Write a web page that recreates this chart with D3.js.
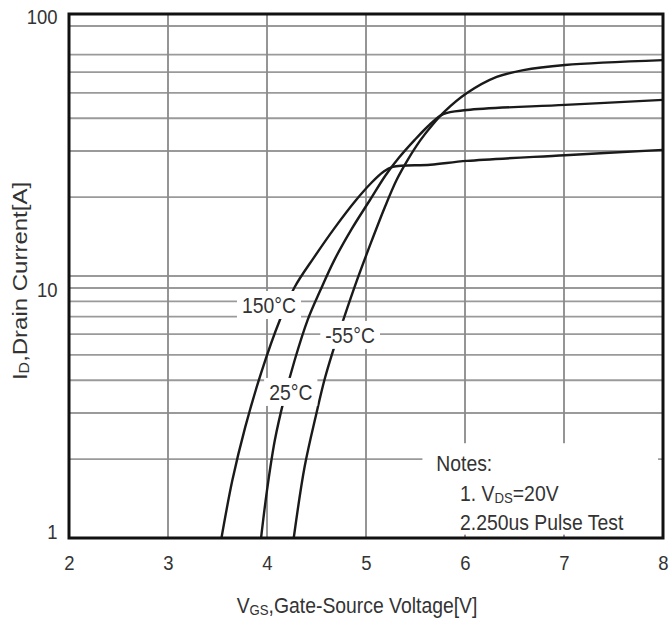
<html>
<head>
<meta charset='utf-8' />
<title>Transfer Characteristics</title>
<script src="https://cdn.jsdelivr.net/npm/d3@7"></script>
<style>
body { margin: 0; background: #fff; }
text { font-family: "Liberation Sans", Arial, sans-serif; fill: #333; }
</style>
</head>
<body>
<script>

// axis ticks and grid
var xTicks = [2, 3, 4, 5, 6, 7, 8];
var yTicks = [1, 10, 100];
var yGrid = [2, 3, 4, 5, 6, 7, 8, 9, 10, 20, 30, 40, 50, 60, 70, 90];

// curves: VGS [V] -> ID [A]
var vgs_150 = [3.54, 3.65, 3.78, 3.94, 4.13, 4.28, 4.47, 4.68, 4.90, 5.05, 5.17, 5.27, 5.65, 6.02, 7.01, 8.0];
var id_150  = [1.0, 1.66, 2.65, 4.26, 6.79, 9.08, 11.7, 15.2, 19.5, 22.6, 24.9, 26.1, 26.6, 27.5, 28.9, 30.3];

var vgs_25 = [3.94, 4.00, 4.08, 4.17, 4.28, 4.41, 4.54, 4.68, 4.85, 5.04, 5.20, 5.33, 5.49, 5.64, 5.78, 6.02, 7.01, 8.0];
var id_25  = [1.0, 1.52, 2.37, 3.36, 4.78, 6.79, 8.84, 11.5, 15.0, 19.5, 24.3, 28.2, 33.0, 37.7, 41.5, 43.0, 45.0, 47.0];

var vgs_m55 = [4.27, 4.38, 4.50, 4.58, 4.66, 4.77, 4.91, 5.06, 5.19, 5.31, 5.42, 5.55, 5.67, 5.79, 6.02, 6.32, 6.59, 7.01, 8.0];
var id_m55  = [1.0, 1.87, 3.0, 4.01, 5.08, 6.79, 9.66, 13.7, 18.3, 23.3, 27.7, 33.0, 37.7, 42.3, 49.9, 57.5, 61.1, 63.9, 66.7];

// curve labels (placed in data units)
var labelText = ["150°C", "25°C", "-55°C"];
var labelV    = [4.02, 4.24, 4.84];
var labelI    = [7.75, 3.61, 5.96];

var notes = ["Notes:", "1. V", "2.250us Pulse Test"];

var margin = {top: 14, right: 7, bottom: 89, left: 69};
var width = 670 - margin.left - margin.right,
    height = 627 - margin.top - margin.bottom;
var sx = 0.88; // glyphs in the picture are a bit narrow

var base = d3.select("body").append("svg")
  .attr("width", 670)
  .attr("height", 627);

var svg = base.append("g").attr("transform", "translate(" + margin.left + "," + margin.top + ")");

var xScale = d3.scaleLinear().domain([2, 8]).range([0, width]);
var yScale = d3.scaleLog().domain([1, 100]).range([height, 0]);

// grid
svg.append("g").selectAll("line.h")
  .data(yGrid).enter().append("line")
  .attr("x1", 0).attr("x2", width)
  .attr("y1", d => yScale(d)).attr("y2", d => yScale(d))
  .attr("stroke", "#9a9a9a").attr("stroke-width", 1.8);

svg.append("g").selectAll("line.v")
  .data(xTicks.slice(1, -1)).enter().append("line")
  .attr("x1", d => xScale(d)).attr("x2", d => xScale(d))
  .attr("y1", 0).attr("y2", height)
  .attr("stroke", "#8a8a8a").attr("stroke-width", 1.8);

// curves
var line = d3.line()
  .x(d => xScale(d[0]))
  .y(d => yScale(d[1]))
  .curve(d3.curveCatmullRom.alpha(0.5));

[[vgs_150, id_150], [vgs_25, id_25], [vgs_m55, id_m55]].forEach(function(s) {
  svg.append("path")
    .datum(d3.zip(s[0], s[1]))
    .attr("fill", "none")
    .attr("stroke", "#1a1a1a")
    .attr("stroke-width", 2.4)
    .attr("d", line);
});

// curve labels with white boxes
var fs = 22;
labelText.forEach(function(t, i) {
  var cx = xScale(labelV[i]), cy = yScale(labelI[i]);
  var g = svg.append("g");
  var txt = g.append("text")
    .attr("text-anchor", "middle")
    .attr("font-size", fs)
    .attr("dy", "0.36em")
    .attr("transform", "translate(" + cx + "," + cy + ") scale(" + sx + ",1)")
    .text(t);
  var w = txt.node().getComputedTextLength() * sx;
  g.insert("rect", "text")
    .attr("x", cx - w / 2 - 5).attr("y", cy - 14)
    .attr("width", w + 10).attr("height", 28)
    .attr("fill", "#fff");
});

// notes box
var nx = xScale(5.57), ny = yScale(2.3);
svg.append("rect")
  .attr("x", nx).attr("y", ny)
  .attr("width", xScale(7.95) - nx).attr("height", yScale(1.03) - ny)
  .attr("fill", "#fff");

svg.append("text").attr("font-size", fs)
  .attr("transform", "translate(" + (xScale(5.72) - 1) + "," + (ny + 28) + ") scale(" + sx + ",1)")
  .text(notes[0]);
var n1 = svg.append("text").attr("font-size", fs)
  .attr("transform", "translate(" + xScale(5.95) + "," + (ny + 58) + ") scale(" + sx + ",1)");
n1.append("tspan").text(notes[1]);
n1.append("tspan").attr("font-size", 15).attr("dy", 2).text("DS");
n1.append("tspan").attr("dy", -2).text("=20V");
svg.append("text").attr("font-size", fs)
  .attr("transform", "translate(" + xScale(5.95) + "," + (ny + 87) + ") scale(" + sx + ",1)")
  .text(notes[2]);

// axes (labels only)
var xAxis = svg.append("g")
  .attr("transform", "translate(0," + height + ")")
  .call(d3.axisBottom(xScale).tickValues(xTicks).tickSize(0).tickPadding(17).tickFormat(d3.format("d")));
var yAxis = svg.append("g")
  .call(d3.axisLeft(yScale).tickValues(yTicks).tickSize(0).tickPadding(13).tickFormat(d3.format("d")));

var nudge = {1: -6, 10: 14, 100: 3};
[xAxis, yAxis].forEach(function(a) {
  a.select(".domain").remove();
  a.selectAll("text")
    .attr("font-size", 21)
    .attr("fill", "#333")
    .attr("font-family", null)
    .attr("transform", "scale(" + sx + ",1)");
});
yAxis.selectAll("text").attr("y", d => nudge[d]);

// frame
svg.append("rect")
  .attr("width", width).attr("height", height)
  .attr("fill", "none")
  .attr("stroke", "#111")
  .attr("stroke-width", 3);

// axis titles
var xt = svg.append("text")
  .attr("text-anchor", "middle")
  .attr("font-size", fs)
  .attr("transform", "translate(" + (357 - margin.left) + "," + (613 - margin.top) + ") scale(" + sx + ",1)");
xt.append("tspan").text("V");
xt.append("tspan").attr("font-size", 15).attr("dy", 2).text("GS");
xt.append("tspan").attr("dy", -2).text(",Gate-Source Voltage[V]");

var yt = svg.append("text")
  .attr("text-anchor", "middle")
  .attr("font-size", 24)
  .attr("transform", "translate(" + (27 - margin.left) + "," + (281 - margin.top) + ") rotate(-90) scale(1," + sx + ")");
yt.append("tspan").text("I");
yt.append("tspan").attr("font-size", 16).attr("dy", 2).text("D");
yt.append("tspan").attr("dy", -2).text(",Drain Current[A]");

</script>
</body>
</html>
